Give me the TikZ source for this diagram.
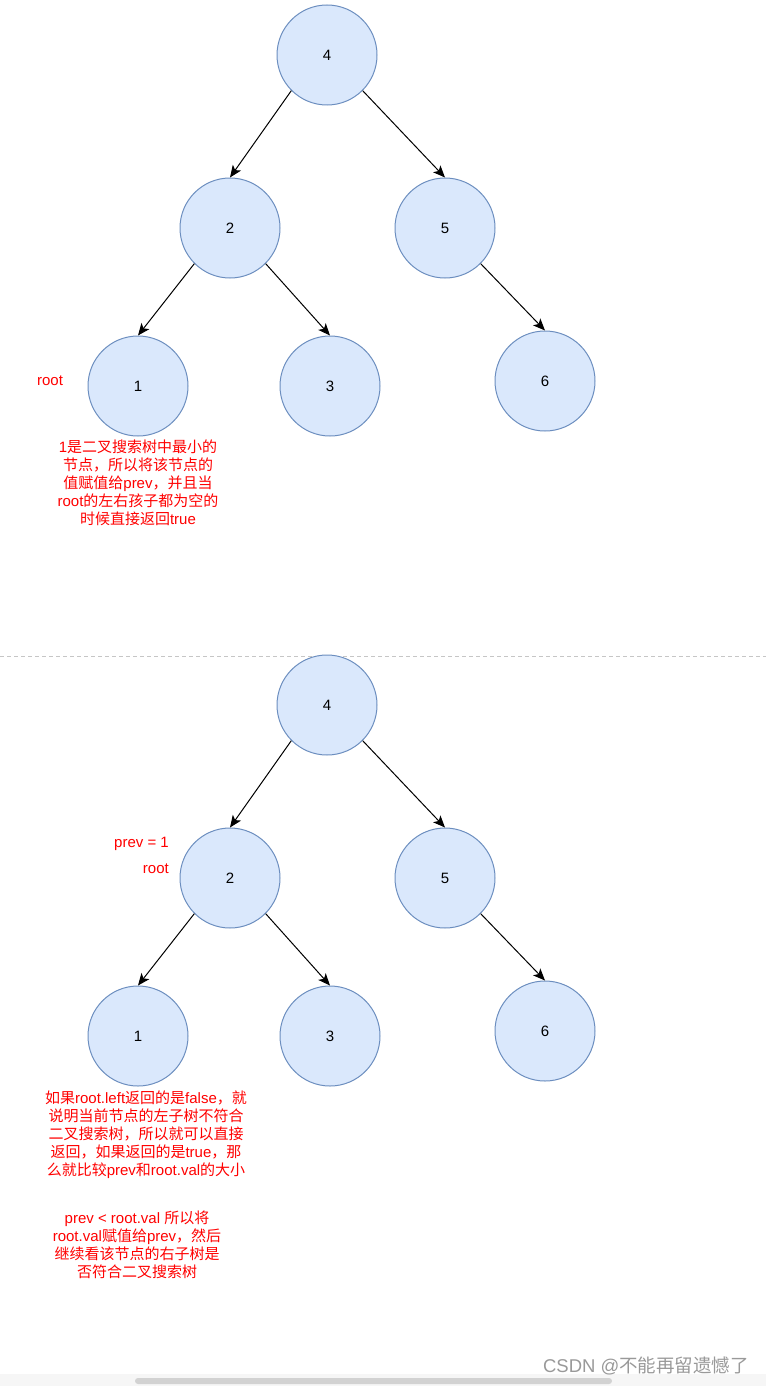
\documentclass[tikz,border=0pt]{standalone}
\usepackage{fontspec}
\setmainfont{Liberation Sans}
\newfontfamily\cjk{Noto Sans CJK SC}
\usetikzlibrary{arrows.meta,positioning}
\newcommand{\zh}[1]{{\cjk #1}}
\definecolor{treefill}{HTML}{DAE8FC}
\definecolor{treeline}{HTML}{6C8EBF}
\tikzset{
	tnode/.style={
		circle,
		draw=treeline, line width=1pt,
		fill=treefill,
		minimum size=100pt,
		inner sep=0pt,
		font=\fontsize{15}{18}\selectfont,
	},
	note/.style={
		text=red,
		align=center,
		inner sep=0pt,
		font=\fontsize{15}{18}\selectfont,
	},
	link/.style={line width=1pt, -{Stealth[length=12pt,width=10pt,inset=3pt]}},
}

\begin{document}
\begin{tikzpicture}[x=1pt, y=-1pt, node distance=5pt]
\useasboundingbox (0,0) rectangle (766,1386);

% first tree
\node	(a4)	[tnode]	at (327,55)	{4};
\node	(a2)	[tnode]	at (230,228)	{2};
\node	(a5)	[tnode]	at (445,228)	{5};
\node	(a1)	[tnode]	at (138,386)	{1};
\node	(a3)	[tnode]	at (330,386)	{3};
\node	(a6)	[tnode]	at (545,381)	{6};
\node	(aroot)	[note]	at (50,381)	{root};
\node	(anote)	[note]	at (138,483)	{1\zh{是二叉搜索树中最小的}\\ \zh{节点，所以将该节点的}\\ \zh{值赋值给}prev\zh{，并且当}\\ root\zh{的左右孩子都为空的}\\ \zh{时候直接返回}true};

\path[link] (a4.south west) edge (a2.north);
\path[link] (a4.south east) edge (a5.north);
\path[link] (a2.south west) edge (a1.north);
\path[link] (a2.south east) edge (a3.north);
\path[link] (a5.south east) edge (a6.north);

% separator
\coordinate (sepl) at (0,656);
\coordinate (sepr) at (766,656);
\draw[gray!45, line width=1pt, dash pattern=on 4pt off 3pt] (sepl) -- (sepr);

% second tree
\node	(b4)	[tnode]	at (327,705)	{4};
\node	(b2)	[tnode]	at (230,878)	{2};
\node	(b5)	[tnode]	at (445,878)	{5};
\node	(b1)	[tnode]	at (138,1036)	{1};
\node	(b3)	[tnode]	at (330,1036)	{3};
\node	(b6)	[tnode]	at (545,1031)	{6};
\node	(bprev)	[note, anchor=east]	at (169,844)	{prev = 1};
\node	(broot)	[note, anchor=east]	at (169,869)	{root};
\node	(bnote)	[note]	at (146,1135)	{\zh{如果}root.left\zh{返回的是}false\zh{，就}\\ \zh{说明当前节点的左子树不符合}\\ \zh{二叉搜索树，所以就可以直接}\\ \zh{返回，如果返回的是}true\zh{，那}\\ \zh{么就比较}prev\zh{和}root.val\zh{的大小}};
\node	(bnext)	[note]	at (137,1245)	{prev < root.val \zh{所以将}\\ root.val\zh{赋值给}prev\zh{，然后}\\ \zh{继续看该节点的右子树是}\\ \zh{否符合二叉搜索树}};

\path[link] (b4.south west) edge (b2.north);
\path[link] (b4.south east) edge (b5.north);
\path[link] (b2.south west) edge (b1.north);
\path[link] (b2.south east) edge (b3.north);
\path[link] (b5.south east) edge (b6.north);

% page bottom
\fill[gray!7] (0,1374) rectangle (766,1386);
\fill[gray!35, rounded corners=3pt] (135,1378) rectangle (612,1384);
\node	(mark)	[text=gray!80, inner sep=0pt, font=\fontsize{18.5}{22}\selectfont]	at (646,1366)	{CSDN @\zh{不能再留遗憾了}};

\end{tikzpicture}
\end{document}
